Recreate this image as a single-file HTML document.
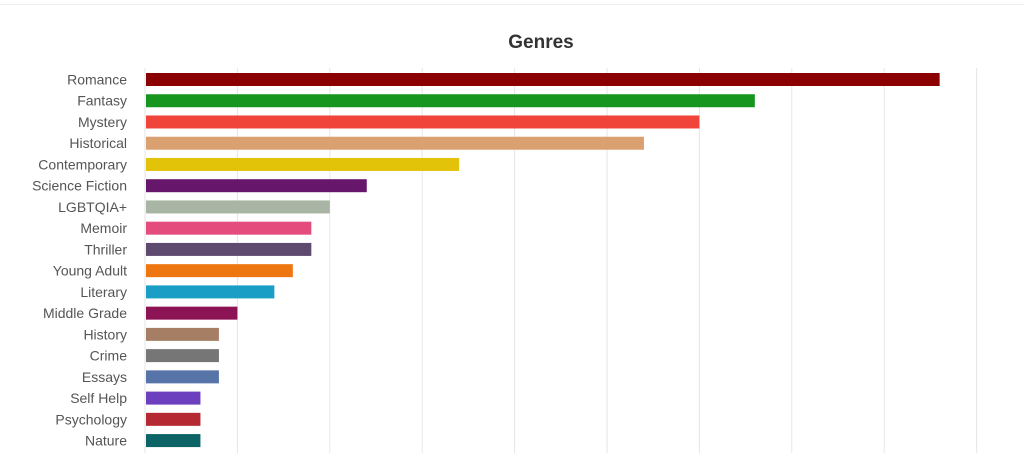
<!DOCTYPE html>
<html><head><meta charset="utf-8"><style>
body{margin:0;width:1024px;height:453px;background:#fff;overflow:hidden;font-family:"Liberation Sans",sans-serif;}
</style></head><body>
<svg id="chart" width="1024" height="453" xmlns="http://www.w3.org/2000/svg">
<line x1="0" y1="4.5" x2="1024" y2="4.5" stroke="#eeeeee" stroke-width="1"/>
<text x="541" y="48" text-anchor="middle" font-size="19" font-weight="bold" fill="#333">Genres</text>
<g id="grid"></g><g id="bars"></g><g id="labels"></g>
</svg>
<script>
const categories=["Romance","Fantasy","Mystery","Historical","Contemporary","Science Fiction","LGBTQIA+","Memoir","Thriller","Young Adult","Literary","Middle Grade","History","Crime","Essays","Self Help","Psychology","Nature"];
const values=[43,33,30,27,17,12,10,9,9,8,7,5,4,4,4,3,3,3];
const colors=["#8b0000","#16961f","#f0443a","#dba070","#e3c20a","#66166b","#a8b5a5","#e34c7c","#5e4a6e","#ee7611","#1a9ec6","#8c1455","#a57e63","#767676","#5774a8","#6c3fbf","#b52a32","#0d6466"];
const gridTicks=[0,5,10,15,20,25,30,35,40,45];
const x0=145,pxPerUnit=18.48,y0=79.5,rowH=21.24,barH=13;
const X=v=>x0+v*pxPerUnit, Y=i=>y0+i*rowH;
const ns="http://www.w3.org/2000/svg";
const g=document.getElementById('grid'),b=document.getElementById('bars'),l=document.getElementById('labels');
gridTicks.forEach(t=>{const e=document.createElementNS(ns,'line');


e.setAttribute('x1',X(t));e.setAttribute('x2',X(t));e.setAttribute('y1',68);e.setAttribute('y2',453);
e.setAttribute('stroke','#e6e6e6');e.setAttribute('stroke-width','1');g.appendChild(e);});
categories.forEach((c,i)=>{
const r=document.createElementNS(ns,'rect');


r.setAttribute('x',X(0)+1);r.setAttribute('y',Y(i)-barH/2);r.setAttribute('width',X(values[i])-X(0)-1);r.setAttribute('height',barH);r.setAttribute('fill',colors[i]);b.appendChild(r);
const t=document.createElementNS(ns,'text');


t.setAttribute('x',127);t.setAttribute('y',Y(i)+5);t.setAttribute('text-anchor','end');t.setAttribute('font-size','14');t.setAttribute('fill','#555');t.textContent=c;l.appendChild(t);});
</script>
</body></html>
